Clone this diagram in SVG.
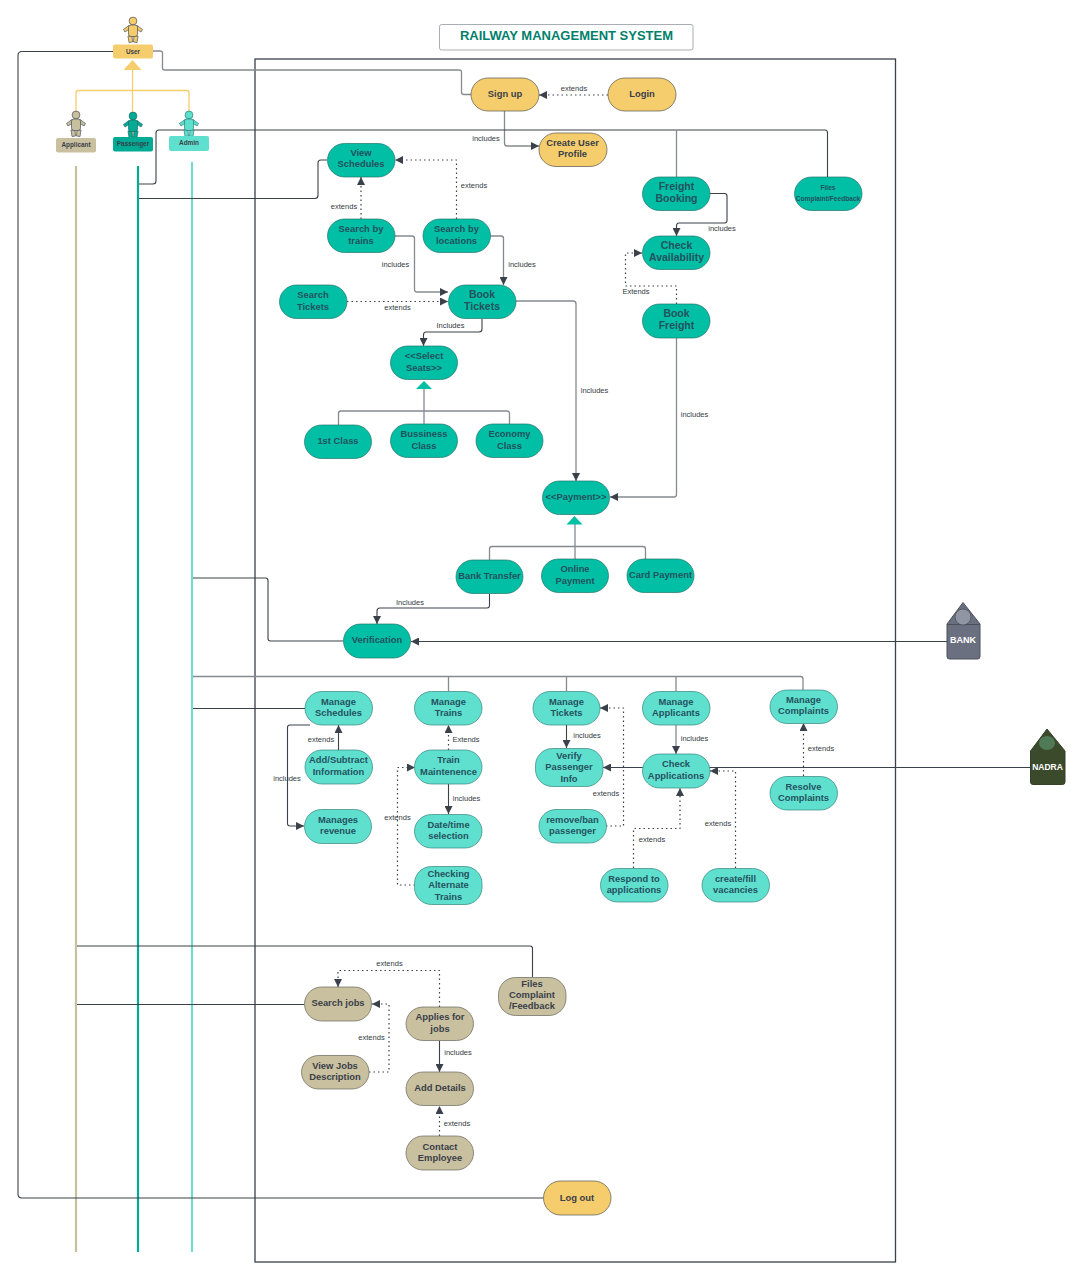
<svg xmlns="http://www.w3.org/2000/svg" width="1081" height="1280" viewBox="0 0 1081 1280">
<style>
text{font-family:"Liberation Sans",Arial,sans-serif}
.n rect{rx:17px;ry:17px;stroke-width:.7}
.n text{font-size:9.4px;font-weight:bold;text-anchor:middle}
.y rect{fill:#f6cd6d;stroke:#55554a}.y text{fill:#3a3f48}
.t rect{fill:#00bfa5;stroke:#22766c}.t text{fill:#24525e}
.l rect{fill:#5fe0cf;stroke:#33857d}.l text{fill:#24525e}
.b rect{fill:#c9c0a0;stroke:#66665a}.b text{fill:#3a3f48}
.big text{font-size:10.5px}
.lb{font-size:7.5px;fill:#333a44;text-anchor:middle}
.c path{fill:none;stroke:#3a414a;stroke-width:1.100;stroke-linejoin:round}
.c .g{stroke:#858a91;stroke-width:1.300}
.c .d{stroke-dasharray:1.500 3;stroke-width:1.200;marker-end:url(#a)}
.c .s{marker-end:url(#a)}
.act rect{rx:2px;ry:2px;stroke:none}
.act text{font-size:6.400px;font-weight:bold;text-anchor:middle;fill:#3a3f48}
</style>
<defs>
<marker id="a" markerWidth="9" markerHeight="8" refX="8" refY="4" orient="auto" markerUnits="userSpaceOnUse"><path d="M0 0L8 4L0 8Z" fill="#3a414a"/></marker>
<g id="person"><circle cx="0" cy="4" r="3.900"/><path d="M-4 8.500L-9.500 12.500L-8 15L-4.300 12.500ZM4 8.500L9.500 12.500L8 15L4.300 12.500Z"/><path d="M-5 19L-1 19L-.5 25L-4 25.500ZM5 19L1 19L.5 25L4 25.500Z"/><rect x="-4.500" y="8" width="9" height="11.500" rx="2.500"/></g>
</defs>

<g id="lifelines" fill="none">
<path d="M76 166V1252" stroke="#c9c0a0" stroke-width="2.200"/>
<path d="M138 166V1252" stroke="#00ab96" stroke-width="2.200"/>
<path d="M192 162V1252" stroke="#74dccd" stroke-width="2.200"/>
</g>

<rect id="system-frame" x="255" y="59" width="640.500" height="1203" fill="none" stroke="#3a414a" stroke-width="1.300"/>

<g id="title"><rect x="439.500" y="24.500" width="253.500" height="25.500" rx="2" fill="#fff" stroke="#a9adb3"/>
<text x="566.500" y="40" font-size="13" font-weight="bold" fill="#00806c" text-anchor="middle">RAILWAY MANAGEMENT SYSTEM</text></g>

<g id="connectors" class="c">
<path d="M113 51.500H22Q18 51.500 18 55.500V1194Q18 1198 22 1198H543"/>
<path class="g" d="M153 51H160Q162.500 51 162.500 53V68Q162.500 70 165 70H459Q461.500 70 461.500 72V92Q461.500 94.500 464 94.500H471"/>
<path d="M132.500 70V137M76 112V93Q76 90.500 78 90.500H187Q189 90.500 189 93V112" style="stroke:#f6cd6d;stroke-width:1.300"/>
<path class="d" d="M608 95H539"/>
<path class="g s" d="M504.500 111V143Q504.500 146 507 146H539"/>
<path d="M139 184H153Q156 184 156 181V133Q156 130 159 130H825Q827.500 130 827.500 133V177"/>
<path class="g" d="M676.500 130V177"/>
<path d="M139 198.500H315Q318 198.500 318 195.500V163Q318 160 321 160H327"/>
<path class="d" d="M361 219V177"/>
<path class="d" d="M456.500 219V160H395"/>
<path class="g s" d="M395 236H412Q414.500 236 414.500 238.500V289.500Q414.500 292 417 292H448"/>
<path class="g s" d="M490 236H501Q503.500 236 503.500 238.500V285"/>
<path class="d" d="M347 301.500H448"/>
<path class="s" d="M482 319V329Q482 332 479 332H426Q423.500 332 423.500 335V346"/>
<path class="g s" d="M516 301H573Q576 301 576 304V481"/>
<path class="s" d="M710 193.500H724.500Q727 193.500 727 196V220.500Q727 223 724.500 223H679Q676.500 223 676.500 226V236"/>
<path class="d" d="M676.500 304V286H625.500V253H642"/>
<path class="g s" d="M676.500 338V494.500Q676.500 497 674 497H610"/>
<path class="g" d="M424 389V424M338.500 425V413.500Q338.500 411 341 411H507Q509.500 411 509.500 413.500V424"/>
<path class="g" d="M575 524V559M489.500 560V549Q489.500 546.500 492 546.500H643Q645.500 546.500 645.500 549V559"/>
<path class="s" d="M489.500 594V605.500Q489.500 608 487 608H380Q377 608 377 611V624"/>
<path d="M193 578H265.500Q268 578 268 580.500V638.500Q268 641 270.500 641H343"/>
<path class="s" d="M947 641.500H411"/>
<path class="g" d="M193 676.500H800.500Q803 676.500 803 679V690M448.500 676.500V691M566.500 676.500V691M676 676.500V691"/>
<path d="M193 708.500H305"/>
<path class="s" d="M310 725H290Q287.500 725 287.500 727.500V823.500Q287.500 826 290 826H304"/>
<path class="s" d="M338.500 750V725"/>
<path class="d" d="M448.500 750V725"/>
<path class="s" d="M448.500 784V814"/>
<path class="d" d="M415 885H397.500V767.500H415"/>
<path class="s" d="M566.500 725V748"/>
<path class="d" d="M606 826H623.500V708H600"/>
<path class="g s" d="M676 725V754"/>
<path class="s" d="M1030 767.500H603"/>
<path class="d" d="M633.500 868V828.500H680V788"/>
<path class="d" d="M735.500 868V771H710"/>
<path class="d" d="M803.500 776V723"/>
<path d="M77 946H530Q532.500 946 532.500 948.500V977"/>
<path d="M77 1004.500H304"/>
<path class="d" d="M439.500 1007V970.500H338V987"/>
<path class="d" d="M369 1072H389V1004H372"/>
<path class="s" d="M439.500 1041V1072"/>
<path class="d" d="M439.500 1136V1106"/>
</g>

<g id="gen-triangles">
<path d="M132.500 60L141.500 70H123.500Z" fill="#f6cd6d"/>
<path d="M424 381L432 389H416Z" fill="#00bfa5"/>
<path d="M574.500 516L582.500 524.500H566.500Z" fill="#00bfa5"/>
</g>

<g id="labels">
<text class="lb" x="574" y="91">extends</text>
<text class="lb" x="486" y="141">includes</text>
<text class="lb" x="474" y="188">extends</text>
<text class="lb" x="344" y="209">extends</text>
<text class="lb" x="395.500" y="267">includes</text>
<text class="lb" x="522" y="266.500">includes</text>
<text class="lb" x="397.500" y="309.500">extends</text>
<text class="lb" x="450.500" y="327.500">Includes</text>
<text class="lb" x="722" y="231">includes</text>
<text class="lb" x="636" y="294">Extends</text>
<text class="lb" x="594.500" y="393">includes</text>
<text class="lb" x="694.500" y="417">includes</text>
<text class="lb" x="410" y="604.500">Includes</text>
<text class="lb" x="321" y="742">extends</text>
<text class="lb" x="287" y="781">includes</text>
<text class="lb" x="466" y="742">Extends</text>
<text class="lb" x="466.500" y="801">includes</text>
<text class="lb" x="397.500" y="820">extends</text>
<text class="lb" x="587" y="738">includes</text>
<text class="lb" x="694.500" y="741">includes</text>
<text class="lb" x="821" y="751">extends</text>
<text class="lb" x="606" y="796">extends</text>
<text class="lb" x="652" y="841.500">extends</text>
<text class="lb" x="718" y="826">extends</text>
<text class="lb" x="389.500" y="966">extends</text>
<text class="lb" x="371.500" y="1040">extends</text>
<text class="lb" x="458" y="1055">includes</text>
<text class="lb" x="457" y="1126">extends</text>
</g>

<g id="actor-user" class="act"><use href="#person" x="133" y="17" fill="#f6cd6d" stroke="#4b5058" stroke-width=".7"/><rect x="113" y="44.500" width="40" height="14" fill="#f6cd6d"/><text x="133" y="53.500">User</text></g>
<g id="actor-applicant" class="act"><use href="#person" x="76" y="111" fill="#c9c0a0" stroke="#4b5058" stroke-width=".7"/><rect x="56" y="138" width="40" height="14.500" fill="#c9c0a0"/><text x="76" y="147">Applicant</text></g>
<g id="actor-passenger" class="act"><use href="#person" x="133" y="112" fill="#00ab96" stroke="#1e6f66" stroke-width=".7"/><rect x="113" y="137" width="40" height="14.500" fill="#00ab96"/><text x="133" y="146">Passenger</text></g>
<g id="actor-admin" class="act"><use href="#person" x="189" y="111" fill="#5fe0cf" stroke="#2a7f78" stroke-width=".7"/><rect x="169" y="136" width="40" height="15" fill="#5fe0cf"/><text x="189" y="145">Admin</text></g>

<g id="n-signup" class="n y"><rect x="471" y="78" width="68" height="33"/><text x="505" y="97">Sign up</text></g>
<g id="n-login" class="n y"><rect x="608" y="78" width="68" height="33"/><text x="642" y="97">Login</text></g>
<g id="n-profile" class="n y"><rect x="539" y="133" width="68" height="33.500"/><text x="572.500" y="146">Create User</text><text x="572.500" y="157">Profile</text></g>
<g id="n-logout" class="n y"><rect x="543.500" y="1181" width="67.500" height="34"/><text x="577" y="1201">Log out</text></g>

<g id="n-view" class="n t"><rect x="327.500" y="143.500" width="67.500" height="33.500"/><text x="361" y="156">View</text><text x="361" y="167">Schedules</text></g>
<g id="n-strains" class="n t"><rect x="327.500" y="219" width="67.500" height="33.500"/><text x="361" y="232">Search by</text><text x="361" y="243.500">trains</text></g>
<g id="n-sloc" class="n t"><rect x="423" y="219" width="67.500" height="33.500"/><text x="456.500" y="232">Search by</text><text x="456.500" y="243.500">locations</text></g>
<g id="n-stickets" class="n t"><rect x="279.500" y="285" width="67.500" height="33.500"/><text x="313" y="298">Search</text><text x="313" y="309.500">Tickets</text></g>
<g id="n-book" class="n t big"><rect x="448.500" y="285" width="67.500" height="33.500"/><text x="482" y="298">Book</text><text x="482" y="310">Tickets</text></g>
<g id="n-seats" class="n t"><rect x="390.500" y="346" width="67" height="33.500"/><text x="424" y="359">&lt;&lt;Select</text><text x="424" y="370.500">Seats&gt;&gt;</text></g>
<g id="n-first" class="n t"><rect x="304.500" y="425" width="67" height="33.500"/><text x="338" y="444">1st Class</text></g>
<g id="n-bus" class="n t"><rect x="390.500" y="424" width="67" height="33.500"/><text x="424" y="437">Bussiness</text><text x="424" y="448.500">Class</text></g>
<g id="n-eco" class="n t"><rect x="476" y="424" width="67" height="33.500"/><text x="509.500" y="437">Economy</text><text x="509.500" y="448.500">Class</text></g>
<g id="n-pay" class="n t"><rect x="542.500" y="481" width="67" height="33.500"/><text x="576" y="500">&lt;&lt;Payment&gt;&gt;</text></g>
<g id="n-bank" class="n t"><rect x="456" y="560" width="67" height="33.500"/><text x="489.500" y="579">Bank Transfer</text></g>
<g id="n-online" class="n t"><rect x="541.500" y="559" width="67" height="33.500"/><text x="575" y="572">Online</text><text x="575" y="584">Payment</text></g>
<g id="n-card" class="n t"><rect x="627" y="559" width="67" height="33.500"/><text x="660.500" y="578">Card Payment</text></g>
<g id="n-verif" class="n t"><rect x="343.500" y="624" width="67" height="34"/><text x="377" y="643">Verification</text></g>
<g id="n-freight" class="n t big"><rect x="642.500" y="177" width="67.500" height="33.500"/><text x="676.500" y="190">Freight</text><text x="676.500" y="202">Booking</text></g>
<g id="n-avail" class="n t big"><rect x="642.500" y="236" width="67.500" height="33.500"/><text x="676.500" y="249">Check</text><text x="676.500" y="261">Availability</text></g>
<g id="n-bfreight" class="n t big"><rect x="642.500" y="304" width="67.500" height="34"/><text x="676.500" y="317">Book</text><text x="676.500" y="329">Freight</text></g>
<g id="n-files1" class="n t"><rect x="794.500" y="177" width="67.500" height="33.500"/><text x="828" y="189.500" style="font-size:6.600px">Files</text><text x="828" y="200.500" style="font-size:6.600px">Complaint/Feedback</text></g>

<g id="n-msched" class="n l"><rect x="305" y="691.500" width="67.500" height="33.500"/><text x="338.500" y="704.500">Manage</text><text x="338.500" y="715.500">Schedules</text></g>
<g id="n-addsub" class="n l"><rect x="305" y="750" width="67.500" height="34"/><text x="338.500" y="763">Add/Subtract</text><text x="338.500" y="774.500">Information</text></g>
<g id="n-rev" class="n l"><rect x="304.500" y="809.500" width="67" height="34"/><text x="338" y="822.500">Manages</text><text x="338" y="834">revenue</text></g>
<g id="n-mtrains" class="n l"><rect x="414.500" y="691.500" width="67.500" height="33.500"/><text x="448.500" y="704.500">Manage</text><text x="448.500" y="715.500">Trains</text></g>
<g id="n-maint" class="n l"><rect x="414.500" y="750" width="67.500" height="34"/><text x="448.500" y="763">Train</text><text x="448.500" y="774.500">Maintenence</text></g>
<g id="n-date" class="n l"><rect x="414.500" y="814.500" width="67.500" height="33.500"/><text x="448.500" y="827.500">Date/time</text><text x="448.500" y="839">selection</text></g>
<g id="n-alt" class="n l"><rect x="414.500" y="866.500" width="67.500" height="38"/><text x="448.500" y="877">Checking</text><text x="448.500" y="888">Alternate</text><text x="448.500" y="900">Trains</text></g>
<g id="n-mtickets" class="n l"><rect x="533" y="691.500" width="67" height="33.500"/><text x="566.500" y="704.500">Manage</text><text x="566.500" y="715.500">Tickets</text></g>
<g id="n-vpi" class="n l"><rect x="535.500" y="748.500" width="67.500" height="38"/><text x="569" y="759">Verify</text><text x="569" y="770">Passenger</text><text x="569" y="781.500">Info</text></g>
<g id="n-ban" class="n l"><rect x="539" y="809.500" width="67.500" height="33.500"/><text x="572.500" y="822.500">remove/ban</text><text x="572.500" y="834">passenger</text></g>
<g id="n-mapp" class="n l"><rect x="642.500" y="691.500" width="67.500" height="33.500"/><text x="676" y="704.500">Manage</text><text x="676" y="715.500">Applicants</text></g>
<g id="n-capp" class="n l"><rect x="642.500" y="754" width="67.500" height="34"/><text x="676" y="767">Check</text><text x="676" y="778.500">Applications</text></g>
<g id="n-resp" class="n l"><rect x="600.500" y="868.500" width="67.500" height="33.500"/><text x="634" y="881.500">Respond to</text><text x="634" y="893">applications</text></g>
<g id="n-fill" class="n l"><rect x="702" y="868.500" width="67.500" height="33.500"/><text x="735.500" y="881.500">create/fill</text><text x="735.500" y="893">vacancies</text></g>
<g id="n-mcomp" class="n l"><rect x="770" y="690" width="67.500" height="33.500"/><text x="803.500" y="703">Manage</text><text x="803.500" y="714">Complaints</text></g>
<g id="n-rcomp" class="n l"><rect x="770" y="776.500" width="67.500" height="33.500"/><text x="803.500" y="789.500">Resolve</text><text x="803.500" y="801">Complaints</text></g>

<g id="n-sjobs" class="n b"><rect x="304.500" y="987" width="67" height="34"/><text x="338" y="1006">Search jobs</text></g>
<g id="n-apply" class="n b"><rect x="406" y="1007" width="67.500" height="33.500"/><text x="440" y="1020">Applies for</text><text x="440" y="1031.500">jobs</text></g>
<g id="n-files2" class="n b"><rect x="498.500" y="977.500" width="67.500" height="38"/><text x="532" y="987">Files</text><text x="532" y="998">Complaint</text><text x="532" y="1009">/Feedback</text></g>
<g id="n-vjobs" class="n b"><rect x="301.500" y="1055.500" width="67.500" height="33.500"/><text x="335" y="1068.500">View Jobs</text><text x="335" y="1080">Description</text></g>
<g id="n-add" class="n b"><rect x="406" y="1072" width="67.500" height="33.500"/><text x="440" y="1091">Add Details</text></g>
<g id="n-contact" class="n b"><rect x="406" y="1136" width="67.500" height="34"/><text x="440" y="1150">Contact</text><text x="440" y="1161">Employee</text></g>

<g id="n-bank-actor">
<path d="M963 602.500L947 624V656.500Q947 659 949.500 659H977.500Q980 659 980 656.500V624Z" fill="#6b7080" stroke="#4b5058"/>
<path d="M947 624.500H980" stroke="#4b5058" fill="none"/>
<circle cx="963" cy="617" r="8" fill="#8f95a3" stroke="#4b5058" stroke-width=".8"/>
<text x="963" y="643" font-size="9" font-weight="bold" fill="#fff" text-anchor="middle">BANK</text>
</g>
<g id="n-nadra-actor">
<path d="M1047 729L1030.500 751V782Q1030.500 784.500 1033 784.500H1062.500Q1065 784.500 1065 782V751Z" fill="#3b4a2a" stroke="#33402a"/>
<ellipse cx="1047" cy="743" rx="8" ry="7" fill="#4f7a55"/>
<text x="1047.500" y="769.500" font-size="8.500" font-weight="bold" fill="#fff" text-anchor="middle">NADRA</text>
</g>
</svg>
